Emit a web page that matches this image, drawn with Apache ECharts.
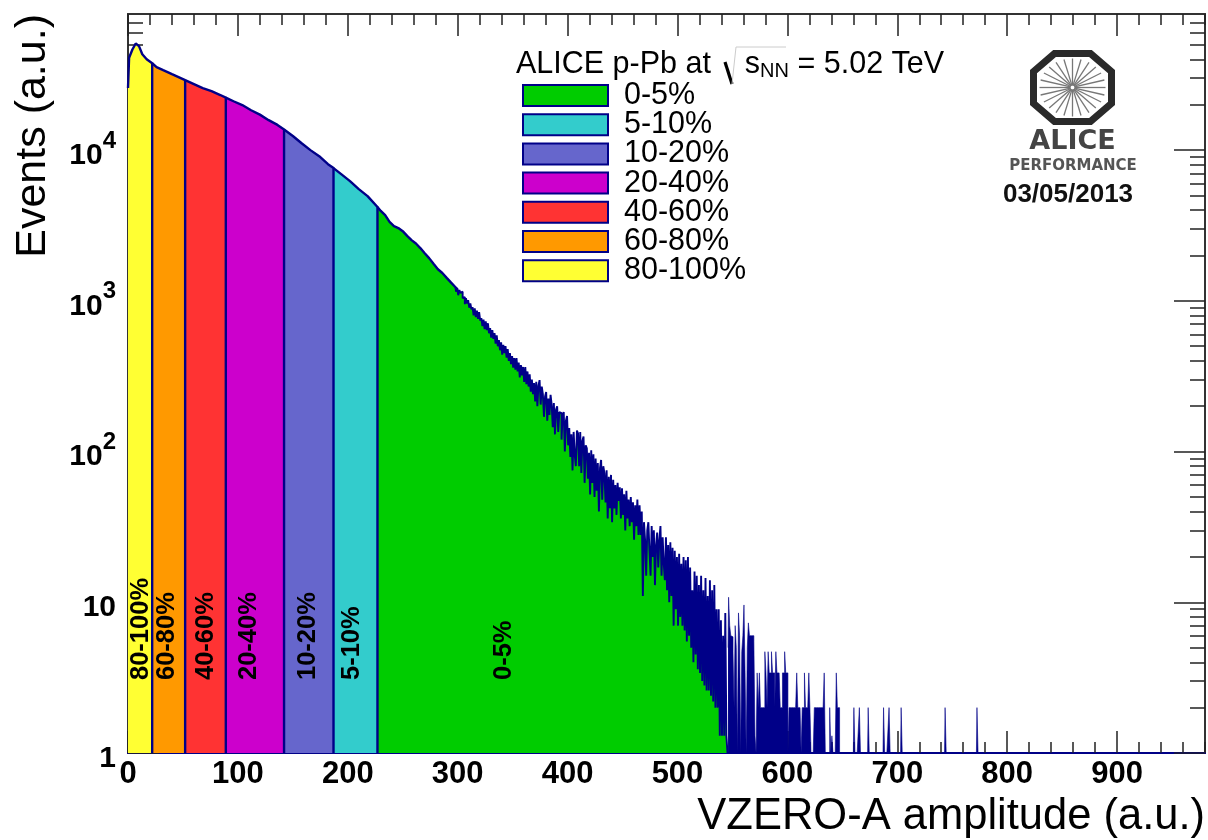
<!DOCTYPE html>
<html><head><meta charset="utf-8">
<style>html,body{margin:0;padding:0;background:#fff}#c{width:1208px;height:840px}</style>
<script src="https://cdn.jsdelivr.net/npm/echarts@6/dist/echarts.min.js"></script>
</head><body><div id="c"></div>
<script>
var NAVY='#000088', FONT='"Liberation Sans",Arial,sans-serif';
var xTickMajor=[0,100,200,300,400,500,600,700,800,900];
var yDecades=[1,10,100,1000,10000];
var bandNames=['0-5%','5-10%','10-20%','20-40%','40-60%','60-80%','80-100%'];
var bandColors=['#00CC00','#33CCCC','#6666CC','#CC00CC','#FF3333','#FF9900','#FFFF33'];

var x80=[0,1,4,7,10,13,17,22];
var v80=[25800,41000,46500,51000,49000,43300,40100,37700];
var x60=[22,26,32,40,46,52];
var v60=[37700,35500,33900,31900,30500,29100];
var x40=[52,60,68,76,84,89];
var v40=[29100,27400,25800,24600,23200,22300];
var x20=[89,96,104,112,120,128,136,142];
var v20=[22300,21100,19900,18400,17200,15800,14700,13700];
var x10=[142,150,158,166,174,182,187];
var v10=[13700,12400,11100,10000,9120,8070,7600];
var x5=[187,194,202,210,218,227];
var v5=[7600,6930,6230,5510,4950,4190];
var x0=[227,230,234,238,242,246,250,254,258,262,266,270,274,278,282,286,290,294,298,300];
var v0=[4190,3950,3700,3340,3130,3040,2900,2700,2530,2400,2240,2070,1920,1760,1620,1530,1420,1320,1230,1180];

// one value per unit-wide bin, first bin at tailStart (green part of the tail)
var tailStart=298;
var tailValues=[
1230,1150,1220,1090,1180,1130,1150,1040,
1060,950,1040,960,1010,900,960,880,
909,800,890,780,860,760,840,740,
769,680,750,650,730,640,710,610,
659,570,640,560,610,520,590,500,
549,470,530,440,510,450,500,420,
479,400,450,380,430,360,417,350,
417,340,390,310,375,320,364,290,
364,280,340,270,325,250,300,240,
285,215,290,200,275,298,205,270,
240,170,232,248,160,225,175,238,
205,145,210,130,190,200,135,183,
180,120,175,183,100,160,172,110,
143,92,130,75,135,95,80,138,
132,80,135,72,118,126,62,110,
105,66,98,52,102,62,96,50,
90,55,84,40,78,88,48,80,
72,46,75,36,68,42,70,34,
65,42,60,38,62,47,58,36,
57,38,52,30,55,36,48,32,
50,34,46,26,44,32,48,28,
44,28,40,11,34,26,15,30,
34,22,15,32,20,30,13,24,
29,17,26,32,15,27,18,14,
27,12,24,10,25,11,23,7,
22,9,20,7,21,8,18,7,
20,6.5,19,5.5,20,6,17,5,
12,4,16,4.5,15,3.6,13,3.4,
15,3,12,2.8,14.5,2.6,11,2.6,
14,2.4,12,2.2,13,2,9,2,
9,1.3,7.6,1.3,6,1.3,8.5,1.3];
// far tail, also one value per bin, where single counts merge into a solid dark block
var farStart=546;
var farValues=[
5,10.8,7,6,5.9,4.7,2,7,
5,1,8.5,6,1,4.7,6,9.6,
3.4,1,5,7.3,6,6,6,6,
5.5,1.3,1,3.4,2,3.4,2,2,
2,2,4.7,3.4,2,4.7,3.4,3.4,
4.7,3.4,3.4,2,4.7,3.4,3.4,3.4,
2,2,3.4,3.4,4.7,3.4,3.4,1,
2,2,2,2,2,2,2,3.4,
2,2,2,1,2,2,3.4,2,
2,2,3.4,2,1,1,1,2,
2,2,2,2,2,2,2,2,
3.4,1,1,1,1,2,1,1.3,
1,1,1,3.4,2,2,1,1,1,1];
var spikeBins=[661,666,674,688,693,704,744,773];
var spikeValues=[2,2,2,2,2,2,2,2];
var xEnd=980, yMax=80000;

var labelNames=['80-100%','60-80%','40-60%','20-40%','10-20%','5-10%','0-5%'];
var labelX=[12,35.5,71,110,163.5,203.5,342.5];
var labelY=[3.05,3.05,3.05,3.05,3.05,3.05,3.05];

function pts(xs,vs){return xs.map(function(x,i){return [x,vs[i]];});}
function band(name,color,xs,vs,closed){
  var d=pts(xs,vs);
  if(closed)d.push([xs[xs.length-1],1]);
  return {type:'line',name:name,data:d,showSymbol:false,symbol:'none',
    itemStyle:{color:color},
    lineStyle:{color:NAVY,width:2.4,join:'bevel'},
    areaStyle:{color:color,opacity:1,origin:'start'},silent:true,animation:false,z:3};
}
var tailData=tailValues.map(function(v,i){return [tailStart+i,v];});
tailData.push([farStart,1]);
var tailSeries=band('0-5%','#00CC00',[],[],false);
tailSeries.data=tailData;tailSeries.step='middle';tailSeries.lineStyle={color:NAVY,width:1.9};

var farData=farValues.map(function(v,i){return [farStart+i,v];});
spikeBins.forEach(function(b,i){
  farData.push([b-1,1]);farData.push([b,spikeValues[i]]);farData.push([b+1,1]);
});
farData.push([xEnd,1]);
var farSeries=band('0-5%',NAVY,[],[],false);
farSeries.data=farData;farSeries.step='middle';farSeries.lineStyle={color:NAVY,width:0.6};

var series=[
 band('0-5%',bandColors[0],x0,v0,false),tailSeries,farSeries,
 band('5-10%',bandColors[1],x5,v5,true),
 band('10-20%',bandColors[2],x10,v10,true),
 band('20-40%',bandColors[3],x20,v20,true),
 band('40-60%',bandColors[4],x40,v40,true),
 band('60-80%',bandColors[5],x60,v60,true),
 band('80-100%',bandColors[6],x80,v80,true),
 {type:'scatter',name:'labels',symbolSize:0,silent:true,animation:false,z:6,itemStyle:{opacity:1},
  data:labelX.map(function(x,i){return {value:[x,labelY[i]],name:labelNames[i]};}),
  label:{show:true,position:'inside',rotate:90,align:'left',verticalAlign:'middle',color:'#000',opacity:1,
    fontFamily:FONT,fontWeight:'bold',fontSize:25.5,formatter:function(p){return p.name;}}}
];

var xMinor=[];for(var i=0;i<=xEnd;i+=20)if(i%100)xMinor.push(i);
var yMinor=[];yDecades.forEach(function(d){for(var k=2;k<=9;k++)if(d*k<yMax)yMinor.push(d*k);});
var lineSt={show:true,onZero:false,lineStyle:{color:'#333',width:2}};
var lineNavy={show:true,onZero:false,lineStyle:{color:NAVY,width:2}};
function xAx(pos,ticks,len,extra){return Object.assign({type:'value',position:pos,min:0,max:xEnd,interval:100,
  axisLine:pos==='bottom'?lineNavy:lineSt,splitLine:{show:false},axisLabel:{show:false,customValues:ticks},
  axisTick:{show:true,inside:true,length:len,customValues:ticks,lineStyle:{color:'#222',width:1.5}}},extra||{});}
function yAx(pos,ticks,len,extra){return Object.assign({type:'log',logBase:10,position:pos,min:1,max:yMax,
  axisLine:lineSt,splitLine:{show:false},axisLabel:{show:false,customValues:ticks},
  axisTick:{show:true,inside:true,length:len,customValues:ticks,lineStyle:{color:'#222',width:1.5}}},extra||{});}

var option={
 animation:false,backgroundColor:'#fff',
 textStyle:{fontFamily:FONT},
 title:{left:516,top:47,padding:0,
  text:'ALICE p-Pb at    {s|s}{n|NN} = 5.02 TeV',
  textStyle:{fontFamily:FONT,fontWeight:'normal',fontSize:30.5,color:'#000',lineHeight:36,
   rich:{s:{fontFamily:FONT,fontSize:30.5,color:'#000'},n:{fontFamily:FONT,fontSize:20,color:'#000',padding:[12,0,0,0]}}}},
 legend:{orient:'vertical',left:522,top:80,padding:0,icon:'rect',itemWidth:85,itemHeight:21,itemGap:-1.8,
  itemStyle:{borderColor:NAVY,borderWidth:2},
  textStyle:{fontFamily:FONT,fontSize:30.5,color:'#000',lineHeight:21,padding:[0,0,0,11]},
  selectedMode:false,data:bandNames},
 grid:{left:128,right:3,top:14,bottom:87,containLabel:false},
 xAxis:[
  xAx('bottom',xTickMajor,22,{name:'VZERO-A amplitude (a.u.)',nameLocation:'end',nameGap:0,
    nameTextStyle:{fontFamily:FONT,fontSize:43.5,color:'#000',align:'right',verticalAlign:'top',padding:[42,0,0,0]},
    axisLabel:{show:true,customValues:xTickMajor,margin:6,fontFamily:FONT,fontWeight:'bold',fontSize:31,color:'#000',
      hideOverlap:false,showMinLabel:true,showMaxLabel:true}}),
  xAx('bottom',xMinor,11),
  xAx('top',xTickMajor,22),
  xAx('top',xMinor,11)
 ],
 yAxis:[
  yAx('left',yDecades,31,{name:'Events (a.u.)',nameLocation:'end',nameGap:0,nameRotate:90,
    nameTextStyle:{fontFamily:FONT,fontSize:43,color:'#000',align:'right',verticalAlign:'bottom',padding:[0,0,73,0]},
    axisLabel:{show:true,customValues:yDecades,margin:12,fontFamily:FONT,fontWeight:'bold',fontSize:30,color:'#000',align:'right',
      formatter:function(v){var e=Math.round(Math.log(v)/Math.LN10);
        if(e===0)return '{b|1}';if(e===1)return '{b|10}';return '{b|10}{p|'+e+'}';},
      rich:{b:{fontFamily:FONT,fontWeight:'bold',fontSize:30,color:'#000',padding:[11,0,0,0]},
            p:{fontFamily:FONT,fontWeight:'bold',fontSize:24,color:'#000',padding:[0,0,18,0]}}}}),
  yAx('left',yMinor,15),
  yAx('right',yDecades,31),
  yAx('right',yMinor,15)
 ],
 graphic:{elements:[]},
 series:series
};

// sqrt sign and ALICE logo
var logoX=1072.5, logoY=87.5;
var g=option.graphic.elements;
g.push({type:'polyline',silent:true,shape:{points:[[725,62],[732,84]]},style:{stroke:'#000',lineWidth:3.2,fill:null}});
g.push({type:'polyline',silent:true,shape:{points:[[732,84],[736,47],[786,47]]},style:{stroke:'#ccc',lineWidth:1,fill:null}});
g.push({type:'polygon',silent:true,shape:{points:[[-18,-34],[18,-34],[39,-16],[39,16],[18,34],[-18,34],[-39,16],[-39,-16]]},
  x:logoX,y:logoY,style:{fill:'#fff',stroke:'#2a2a2a',lineWidth:7}});
for(var s=0;s<24;s++){var a=s*Math.PI/12;
  g.push({type:'line',silent:true,x:logoX,y:logoY,
    shape:{x1:2*Math.cos(a),y1:2*Math.sin(a),x2:33*Math.cos(a),y2:29*Math.sin(a)},
    style:{stroke:'#777',lineWidth:1.3}});}
g.push({type:'text',silent:true,x:logoX,y:142,style:{text:'ALICE',font:'bold 27px "DejaVu Sans"',fill:'#444',align:'center',verticalAlign:'middle'}});
g.push({type:'text',silent:true,x:logoX+.5,y:166,style:{text:'PERFORMANCE',font:'bold 15px "DejaVu Sans"',fill:'#555',align:'center',verticalAlign:'middle'}});
g.push({type:'text',silent:true,x:1068,y:195,style:{text:'03/05/2013',font:'bold 26px "Liberation Sans"',fill:'#111',align:'center',verticalAlign:'middle'}});

var chart=echarts.init(document.getElementById('c'),null,{renderer:'canvas'});
chart.setOption(option);
</script></body></html>
